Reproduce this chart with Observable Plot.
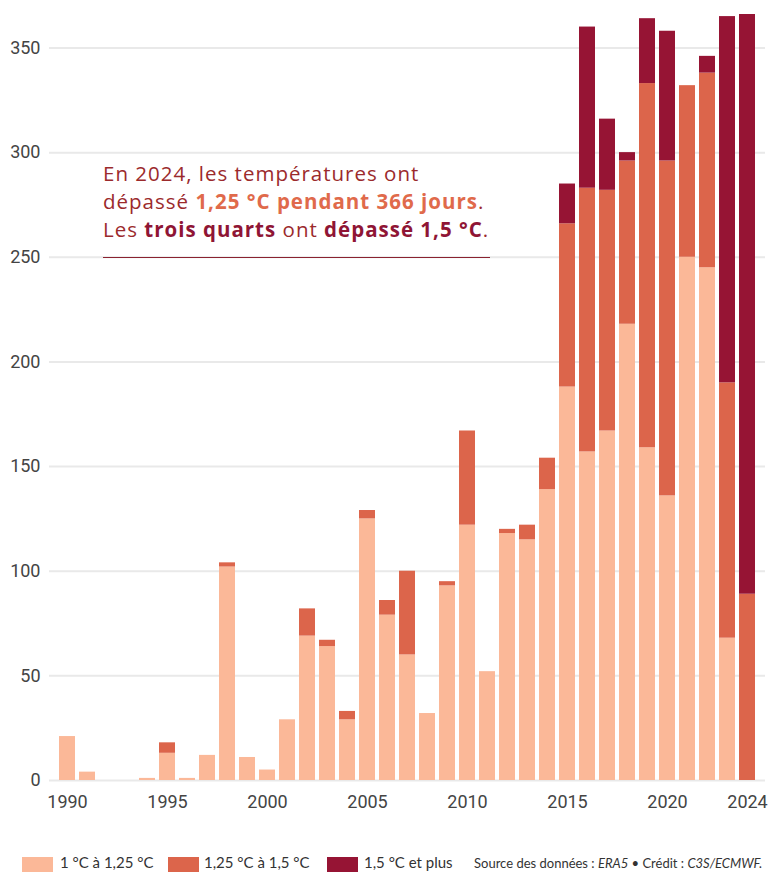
<!DOCTYPE html>
<html>
<head>
<meta charset="utf-8">
<script src="https://cdn.jsdelivr.net/npm/d3@7"></script>
<script src="https://cdn.jsdelivr.net/npm/@observablehq/plot@0.6"></script>
<style>
  html, body { margin: 0; padding: 0; background: #fff; }
  #wrap { position: relative; width: 778px; height: 872px; overflow: hidden; }
  #chart { position: absolute; left: 0; top: 0; }
  #note { position: absolute; left: 103px; top: 159px; width: 400px;
    font-family: "Open Sans", Lato, sans-serif; font-size: 20.5px; line-height: 28px; color: #9b2a2c; white-space: nowrap; letter-spacing: 1px; }
  #note b.o { color: #e06a4b; font-weight: 700; }
  #note b.r { color: #8f1535; font-weight: 700; }
  #rule { position: absolute; left: 103px; top: 257px; width: 387px; height: 0; border-top: 1px solid #8a2230; }
  #legend { position: absolute; left: 0; top: 854px; height: 18px; width: 778px;
    font-family: Lato, "Noto Sans", sans-serif; font-size: 15px; color: #333; }
  #legend .sw { position: absolute; top: 3px; width: 31px; height: 16px; }
  #legend .lb { position: absolute; top: 0px; line-height: 17px; white-space: nowrap; }
  #legend .src { font-size: 13px; }
</style>
</head>
<body>
<div id="wrap">
  <div id="chart"></div>
  <div id="note">En 2024, les températures ont<br>dépassé <b class="o">1,25 °C pendant 366 jours</b>.<br>Les <b class="r">trois quarts</b> ont <b class="r">dépassé 1,5 °C</b>.</div>
  <div id="rule"></div>
  <div id="legend"></div>
</div>
<script>
const years = d3.range(1990, 2025);
// Jours dans chaque tranche d'anomalie de température
const low  = [21, 4, 0, 0, 1, 13, 1, 12, 102, 11, 5, 29, 69, 64, 29, 125, 79, 60, 32, 93, 122, 52, 118, 115, 139, 188, 157, 167, 218, 159, 136, 250, 245, 68, 0];
const mid  = [0, 0, 0, 0, 0, 5, 0, 0, 2, 0, 0, 0, 13, 3, 4, 4, 7, 40, 0, 2, 45, 0, 2, 7, 15, 78, 126, 115, 78, 174, 160, 82, 93, 122, 89];
const high = [0, 0, 0, 0, 0, 0, 0, 0, 0, 0, 0, 0, 0, 0, 0, 0, 0, 0, 0, 0, 0, 0, 0, 0, 0, 19, 77, 34, 4, 31, 62, 0, 8, 175, 277];
const seriesNames = ["1 °C à 1,25 °C", "1,25 °C à 1,5 °C", "1,5 °C et plus"];
const seriesColors = ["#fbb898", "#dc654b", "#961434"];
const xTicks = [1990, 1995, 2000, 2005, 2010, 2015, 2020, 2024];
const yTicks = [0, 50, 100, 150, 200, 250, 300, 350];

const rows = [];
years.forEach((y, i) => {
  rows.push({year: y, serie: seriesNames[0], days: low[i]});
  rows.push({year: y, serie: seriesNames[1], days: mid[i]});
  rows.push({year: y, serie: seriesNames[2], days: high[i]});
});

const chart = Plot.plot({
  width: 778,
  height: 812,
  marginLeft: 49,
  marginRight: 13,
  marginTop: 14,
  marginBottom: 32,
  style: {fontFamily: "Roboto, sans-serif", fontSize: "18px", color: "#444", background: "#fff"},
  x: {type: "band", domain: years, padding: 0.2, label: null},
  y: {domain: [0, 366], label: null},
  color: {domain: seriesNames, range: seriesColors},
  marks: [
    Plot.gridY(yTicks, {stroke: "#e9e9e9", strokeOpacity: 1, strokeWidth: 2}),
    Plot.barY(rows, {x: "year", y: "days", fill: "serie", order: seriesNames}),
    Plot.axisX({ticks: xTicks, tickSize: 0, tickPadding: 15, label: null, fontSize: 18, fontFamily: "Roboto, sans-serif", tickFormat: d => String(d)}),
    Plot.axisY({ticks: yTicks, tickSize: 0, tickPadding: 9, label: null, fontSize: 18, fontFamily: "Roboto, sans-serif"})
  ]
});
document.getElementById("chart").appendChild(chart);

// Legend
const legend = d3.select("#legend");
const items = [
  {sw: 22, lx: 60},
  {sw: 168, lx: 204},
  {sw: 327, lx: 364}
];
items.forEach((it, i) => {
  legend.append("div").attr("class", "sw").style("left", it.sw + "px").style("background", seriesColors[i]);
  legend.append("div").attr("class", "lb").style("left", it.lx + "px").text(seriesNames[i]);
});
legend.append("div").attr("class", "lb src").style("left", "474px").style("top", "1px")
  .html("Source des données : <i>ERA5</i> • Crédit : <i>C3S/ECMWF.</i>");
</script>
</body>
</html>
